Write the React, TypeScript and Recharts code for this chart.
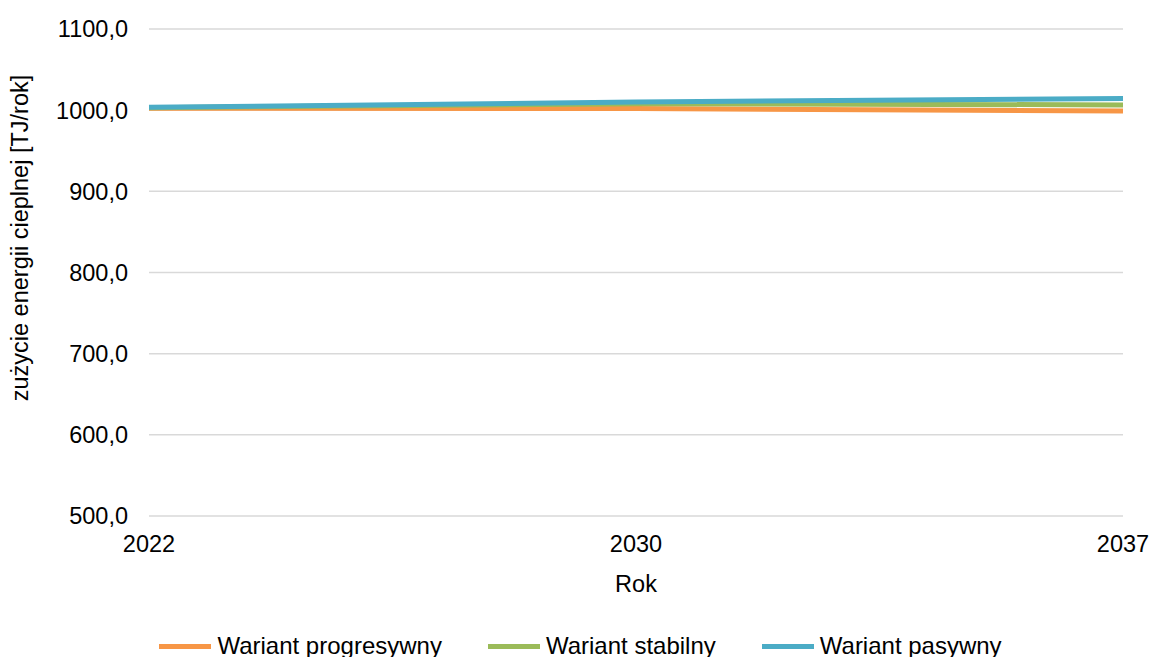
import React from 'react';
import { LineChart, Line, XAxis, YAxis, CartesianGrid, Legend, Label } from 'recharts';

// Heat energy use forecast per scenario
const years = ['2022', '2030', '2037'];
const progresywny = [1002.5, 1002.0, 999.0];
const stabilny = [1003.0, 1008.0, 1006.5];
const pasywny = [1003.5, 1010.0, 1014.5];
const yTicks = [500, 600, 700, 800, 900, 1000, 1100];

const seriesNames = ['Wariant progresywny', 'Wariant stabilny', 'Wariant pasywny'];
const seriesColors = ['#F79646', '#9BBB59', '#4BACC6'];

const data = years.map((year, i) => ({
  year,
  progresywny: progresywny[i],
  stabilny: stabilny[i],
  pasywny: pasywny[i],
}));

const FONT = '"Liberation Sans", Arial, sans-serif';
const FS = 23.5;
const LEGEND_FS = 24;

const fmt = (v: number) => v.toFixed(1).replace('.', ',');

const renderLegend = (props: any) => {
  const payload = [...(props.payload || [])].sort(
    (a: any, b: any) => seriesNames.indexOf(a.value) - seriesNames.indexOf(b.value)
  );
  return (
    <div style={{ display: 'flex', justifyContent: 'center', alignItems: 'center', paddingLeft: 10, fontFamily: FONT, fontSize: LEGEND_FS, color: '#000' }}>
      {payload.map((entry: any, i: number) => (
        <div key={i} style={{ display: 'flex', alignItems: 'center', marginLeft: i === 0 ? 0 : 46 }}>
          <div style={{ width: 52, height: 5, background: entry.color, marginRight: 6 }} />
          <span style={{ lineHeight: '26px' }}>{entry.value}</span>
        </div>
      ))}
    </div>
  );
};

export default function App() {
  return (
    <div style={{ position: 'absolute', left: 0, top: 0, width: 1151, height: 657, background: '#fff' }}>
      <LineChart
        width={1151}
        height={657}
        data={data}
        margin={{ top: 29, right: 28, left: 69, bottom: 55 }}
        style={{ fontFamily: FONT }}
      >
        <CartesianGrid vertical={false} stroke="#D9D9D9" strokeWidth={1.5} />
        <XAxis
          dataKey="year"
          axisLine={false}
          tickLine={false}
          tickSize={0}
          tickMargin={19}
          height={60}
          tick={{ fill: '#000', fontSize: FS, fontFamily: FONT }}
          interval={0}
        >
          <Label
            content={(p: any) => {
              const vb = p.viewBox;
              return (
                <text x={vb.x + vb.width / 2} y={vb.y + 76} textAnchor="middle" fill="#000" fontSize={FS} fontFamily={FONT}>
                  Rok
                </text>
              );
            }}
          />
        </XAxis>
        <YAxis
          domain={[500, 1100]}
          ticks={yTicks}
          axisLine={false}
          tickLine={false}
          tickSize={0}
          tickMargin={21}
          width={80}
          tickFormatter={fmt}
          tick={{ fill: '#000', fontSize: FS, fontFamily: FONT }}
        >
          <Label
            content={() => (
              <text
                x={28}
                y={238}
                transform="rotate(-90 28 238)"
                textAnchor="middle"
                fill="#000"
                fontSize={FS}
                fontFamily={FONT}
              >
                zużycie energii cieplnej [TJ/rok]
              </text>
            )}
          />
        </YAxis>
        <Legend
          content={renderLegend}
          verticalAlign="bottom"
          wrapperStyle={{ position: 'absolute', left: 0, top: 633, width: 1151 }}
        />
        <Line type="linear" dataKey="progresywny" name={seriesNames[0]} stroke={seriesColors[0]} strokeWidth={5} dot={false} isAnimationActive={false} />
        <Line type="linear" dataKey="stabilny" name={seriesNames[1]} stroke={seriesColors[1]} strokeWidth={5} dot={false} isAnimationActive={false} />
        <Line type="linear" dataKey="pasywny" name={seriesNames[2]} stroke={seriesColors[2]} strokeWidth={5} dot={false} isAnimationActive={false} />
      </LineChart>
    </div>
  );
}
